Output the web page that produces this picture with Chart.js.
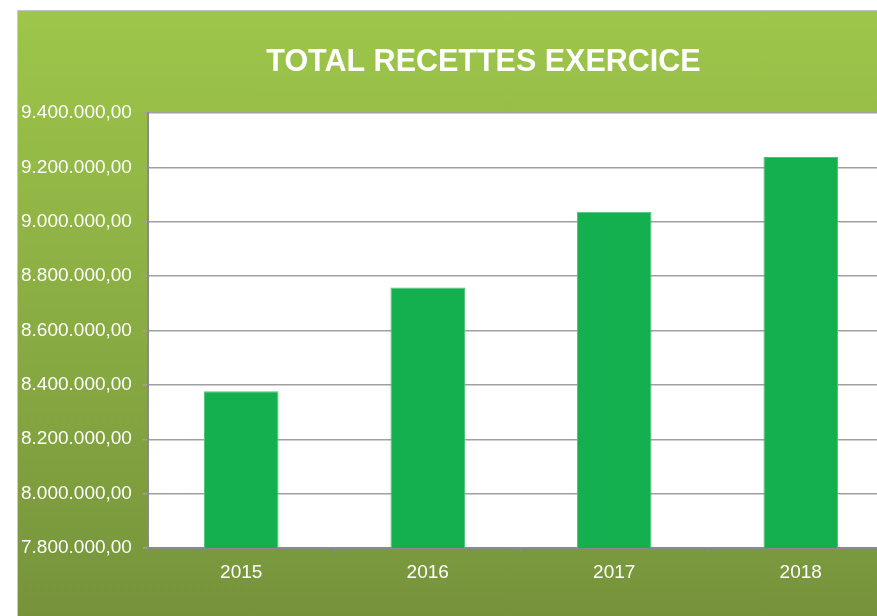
<!DOCTYPE html>
<html>
<head>
<meta charset="utf-8">
<script src="https://cdn.jsdelivr.net/npm/chart.js@4/dist/chart.umd.min.js"></script>
<style>
  html, body { margin: 0; padding: 0; background: #ffffff; overflow: hidden; width: 877px; height: 616px; }
  #wrap {
    position: absolute; left: 17px; top: 10px; width: 933px; height: 606px;
    background: linear-gradient(to bottom, #9ec64a 0%, #8aad43 50%, #76933b 100%);
    border-left: 1px solid #c9c9c9; border-top: 1px solid #c4c4c4;
    box-sizing: border-box;
  }
  #wrap canvas { position: absolute; left: -1px; top: -1px; }
</style>
</head>
<body>
<div id="wrap"><canvas id="c" width="933" height="606"></canvas></div>
<script>
const titleText = "TOTAL RECETTES EXERCICE";
const years = ["2015", "2016", "2017", "2018"];
const totals = [8377000, 8758000, 9037000, 9238000];
const yMin = 7800000;
const yMax = 9400000;
const yStep = 200000;

function fmt(v) {
  const s = Math.round(v).toString();
  return s.replace(/\B(?=(\d{3})+(?!\d))/g, ".") + ",00";
}

const FONT = "'Liberation Sans', Arial, sans-serif";
const c = document.getElementById('c');
c.style.width = '933px'; c.style.height = '606px';

const plotBg = {
  id: 'plotBg',
  beforeDraw(chart) {
    const { ctx, chartArea: a } = chart;
    ctx.save();
    ctx.fillStyle = '#ffffff';
    ctx.fillRect(a.left, a.top, a.right - a.left, a.bottom - a.top);
    ctx.restore();
  }
};

new Chart(c, {
  type: 'bar',
  data: {
    labels: years,
    datasets: [{
      data: totals,
      yAxisID: 'y',
      backgroundColor: '#14b04f',
      borderColor: '#4cc47a',
      borderWidth: 1,
      categoryPercentage: 1,
      barPercentage: 0.4
    }]
  },
  options: {
    responsive: false,
    animation: false,
    devicePixelRatio: 1,
    layout: { padding: { left: 4, right: 4, top: 0, bottom: 0 } },
    plugins: {
      legend: { display: false },
      tooltip: { enabled: false },
      title: {
        display: true,
        text: titleText,
        color: '#ffffff',
        font: { family: FONT, size: 30.5, weight: 'bold' },
        padding: { top: 34, bottom: 32.4 }
      }
    },
    scales: {
      x: {
        offset: true,
        grid: { display: true, drawOnChartArea: false, drawTicks: true, tickLength: 4, color: '#8a8a8a', lineWidth: 1.5 },
        border: { display: true, color: '#8a8a8a', width: 2 },
        ticks: { color: '#ffffff', font: { family: FONT, size: 19 }, padding: 9 },
        afterFit(s) { s.height = 68; }
      },
      y: {
        min: yMin,
        max: yMax,
        grid: { color: '#a0a0a0', lineWidth: 1.5, tickLength: 5 },
        border: { display: true, color: '#8a8a8a', width: 2 },
        ticks: {
          stepSize: yStep,
          color: '#ffffff',
          font: { family: FONT, size: 19 },
          crossAlign: 'far',
          callback: (v) => fmt(v)
        },
        afterFit(s) { s.width = 127; }
      },
      yRight: {
        position: 'right',
        min: yMin,
        max: yMax,
        grid: { display: false },
        border: { display: false },
        ticks: { display: false },
        afterFit(s) { s.width = 52; }
      }
    }
  },
  plugins: [plotBg]
});
</script>
</body>
</html>
